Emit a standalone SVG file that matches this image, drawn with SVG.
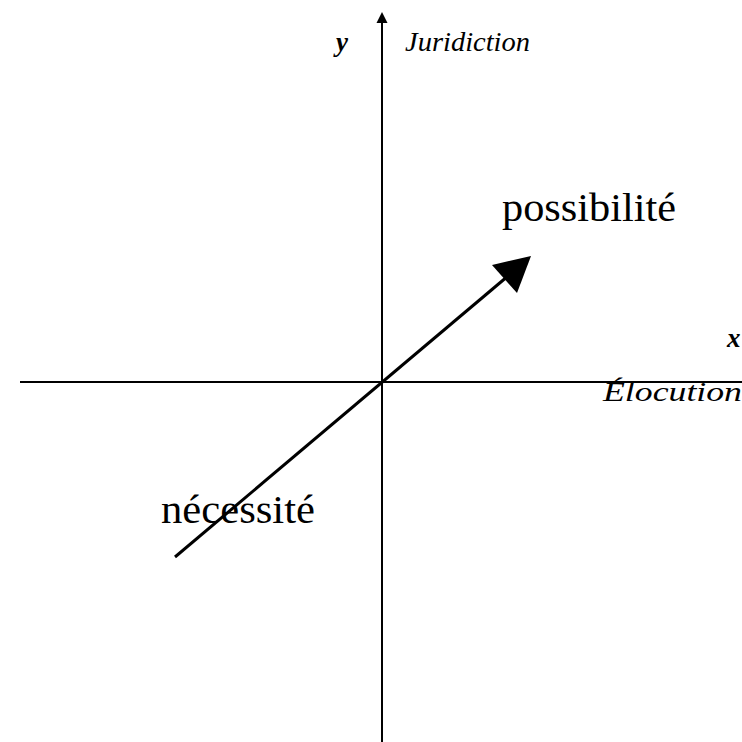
<svg xmlns="http://www.w3.org/2000/svg" width="742" height="742" viewBox="0 0 742 742">
<style>
.ax{stroke:#000;stroke-width:2;fill:none}
.vec{stroke:#000;stroke-width:3;fill:none}
.lbl{font-family:"Liberation Serif",serif;fill:#000}
.it{font-style:italic}
</style>
<rect width="742" height="742" fill="#fff"/>
<g id="connectors">
<line class="ax" x1="382" y1="20" x2="382" y2="742"/>
<polygon points="382,12 376.5,23 387.5,23" fill="#000"/>
<line class="ax" x1="20" y1="382" x2="742" y2="382"/>
<line class="vec" x1="175" y1="557" x2="508" y2="276"/>
<polygon points="531,256 492,265 517,293" fill="#000"/>
</g>
<g id="label-y"><text class="lbl it" x="336" y="51" font-size="27" font-weight="bold">y</text></g>
<g id="label-juridiction"><text class="lbl it" x="405" y="51" font-size="27" textLength="125" lengthAdjust="spacingAndGlyphs">Juridiction</text></g>
<g id="label-x"><text class="lbl it" x="727" y="347" font-size="27" font-weight="bold">x</text></g>
<g id="label-elocution"><text class="lbl it" x="603" y="401" font-size="27" textLength="139" lengthAdjust="spacingAndGlyphs">Élocution</text></g>
<g id="label-possibilite"><text class="lbl" x="502" y="221" font-size="39" textLength="174" lengthAdjust="spacingAndGlyphs">possibilité</text></g>
<g id="label-necessite"><text class="lbl" x="161" y="523" font-size="39" textLength="154" lengthAdjust="spacingAndGlyphs">nécessité</text></g>
</svg>
